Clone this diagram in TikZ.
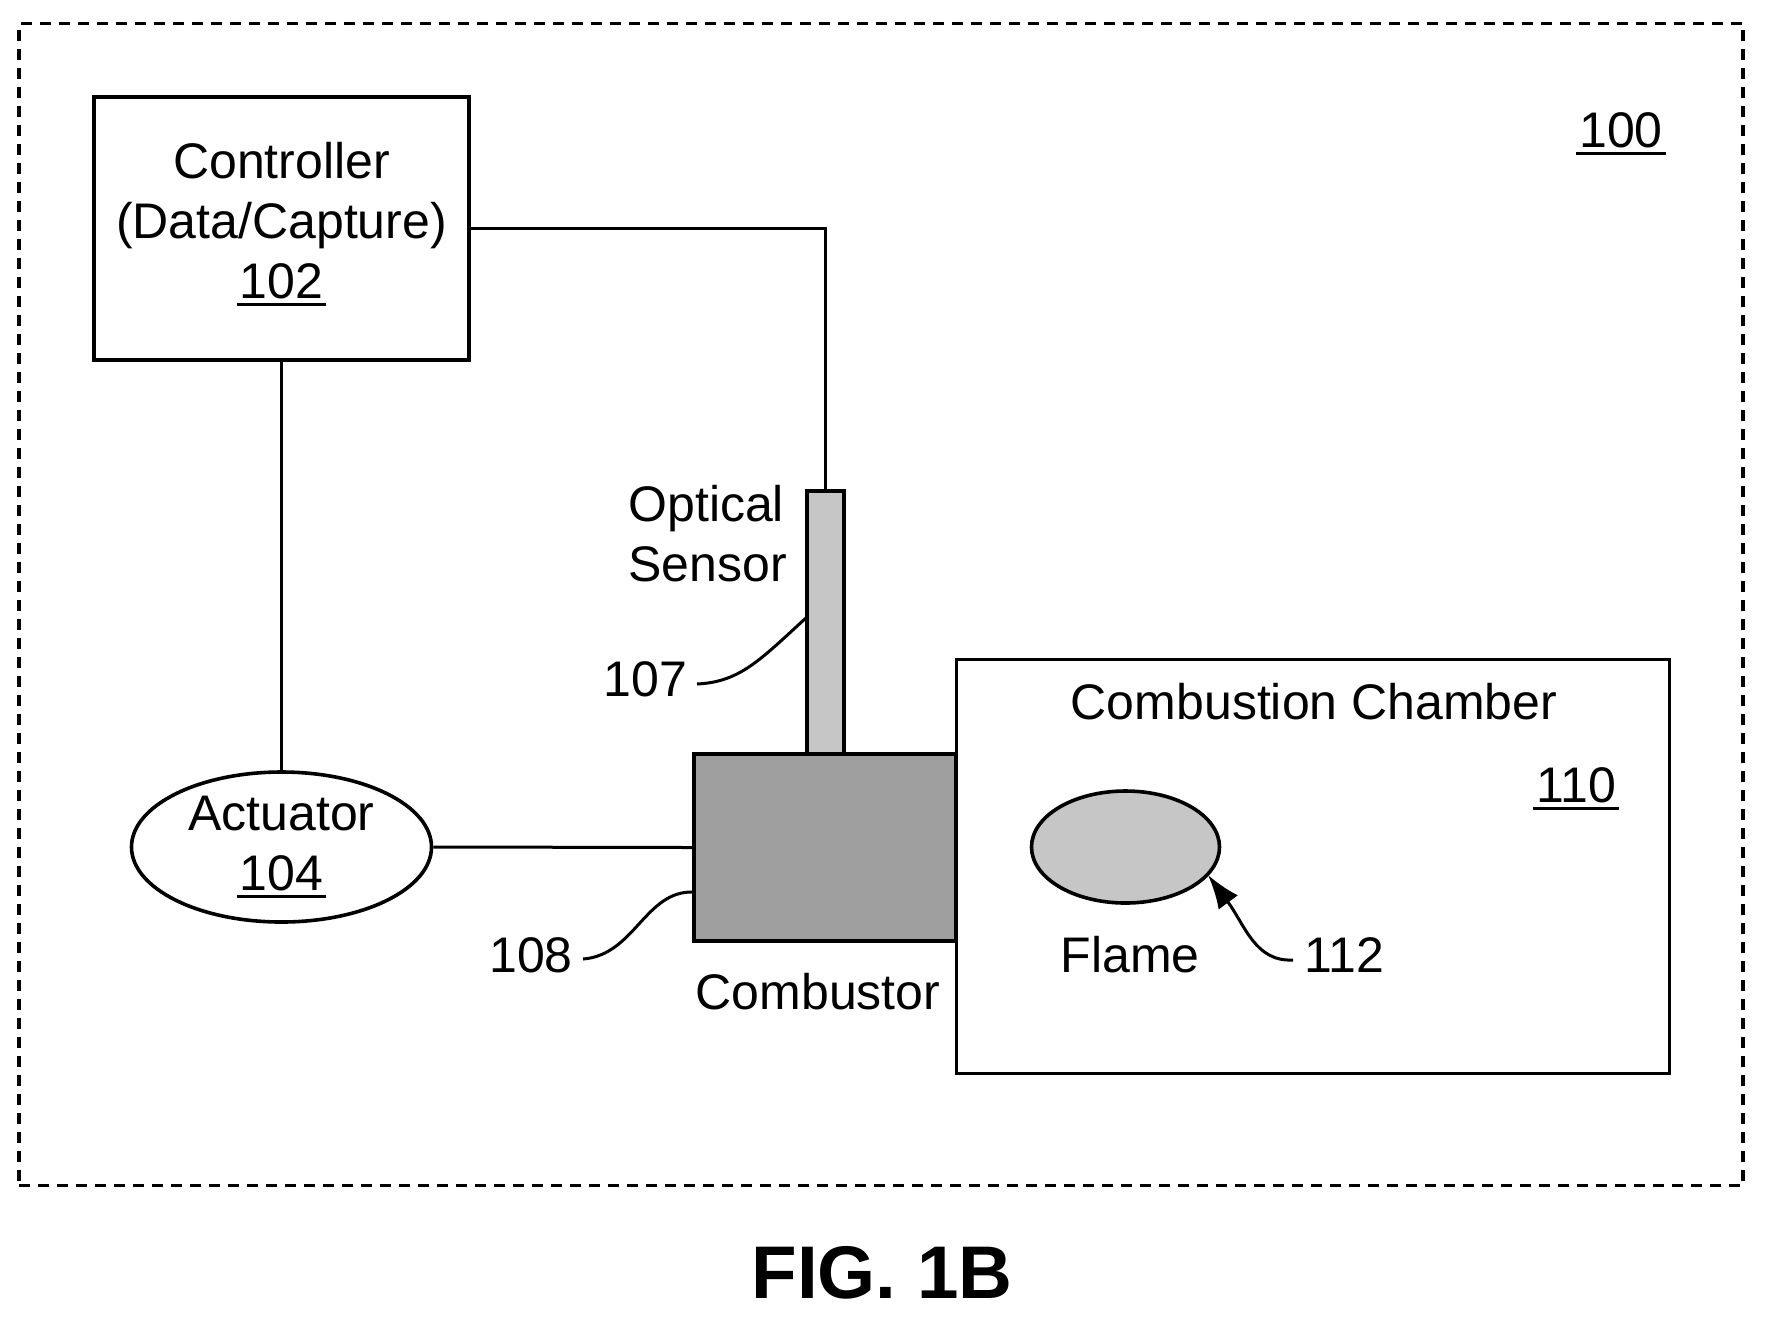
\documentclass[tikz,border=0pt]{standalone}
\usepackage{fontspec}
\setmainfont{Liberation Sans}
\usetikzlibrary{shapes.geometric,arrows.meta}
\newcommand{\refnum}[1]{\setbox0\hbox{#1}\makebox[0pt][l]{\hspace{-1.6pt}\rule[-4pt]{\dimexpr\wd0+3.2pt}{1.7pt}}\box0}

\begin{document}
\begin{tikzpicture}[x=0.5pt, y=-0.5pt,
        box/.style={draw, line width=1.8pt, inner sep=0pt},
        wire/.style={line width=1.5pt},
        lbl/.style={font=\fontsize{25}{30}\selectfont, anchor=base, inner sep=0pt, align=center}]
        \useasboundingbox (0,0) rectangle (1766,1319);
        \node[draw, line width=1.8pt, dash pattern=on 5.5pt off 4pt, minimum width=862.25pt, minimum height=581pt, inner sep=0pt] (frame) at (881,604.5) {};

        \node[box, minimum width=187.5pt, minimum height=131.5pt] (controller) at (281.5,228.5) {};
        \node[box, ellipse, minimum width=150pt, minimum height=75pt] (actuator) at (281.5,847) {};

        \node[box, fill=gray!45, minimum width=18.5pt, minimum height=131.5pt] (sensor) at (825.5,622.5) {};
        \node[box, line width=1.5pt, minimum width=356.8pt, minimum height=207pt] (chamber) at (1312.8,866) {};
        \node[box, fill=gray!75, minimum width=131pt, minimum height=93.5pt] (combustor) at (825,847.5) {};
        \node[box, ellipse, fill=gray!45, minimum width=94pt, minimum height=56pt] (flame) at (1125.5,847) {};

        \draw[wire] (controller.east) -| (sensor.north);
        \draw[wire] (controller.south) -- (actuator.north);
        \draw[wire] (actuator.east) -- (combustor.west);

        \node[lbl, anchor=center] (controllerlbl) at (281.5,224) {Controller\\(Data/Capture)\\\refnum{102}};
        \node[lbl, anchor=center] (actuatorlbl) at (281.5,847) {Actuator\\\refnum{104}};
        \node[lbl, anchor=base west] (optical) at (628,521.5) {Optical};
        \node[lbl, anchor=base west] (sensorlbl) at (628,581.5) {Sensor};
        \node[lbl] (n107) at (645.5,696) {107};
        \node[lbl] (n108) at (531,972) {108};
        \node[lbl] (n112) at (1344,972) {112};
        \node[lbl] (combustorlbl) at (818,1009) {Combustor};
        \node[lbl] (chamberlbl) at (1314,719) {Combustion Chamber};
        \node[lbl] (flamelbl) at (1130,972) {Flame};
        \node[lbl] (n110) at (1576,802) {\refnum{110}};
        \node[lbl] (n100) at (1621,147) {\refnum{100}};
        \node[font=\fontsize{37.3}{37.3}\bfseries, anchor=base, inner sep=0pt] (fig) at (882,1298) {FIG. 1B};

        \coordinate (a107) at (807,617);
        \coordinate (b107) at (697,684);
        \coordinate (a108) at (694,892);
        \coordinate (b108) at (583,959);
        \coordinate (a112) at (1208,875);
        \coordinate (b112) at (1293,960);
        \draw[wire] (a107) .. controls (760,660) and (740,682) .. (b107);
        \draw[wire] (a108) .. controls (645,890) and (635,955) .. (b108);
        \draw[wire, -{Latex[length=17pt,width=12pt]}] (b112) .. controls (1255,962) and (1245,925) .. (a112);
\end{tikzpicture}
\end{document}
